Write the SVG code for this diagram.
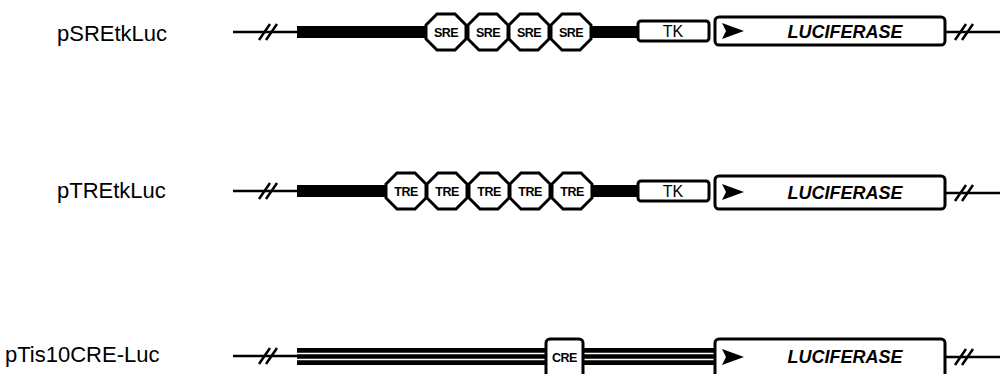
<svg xmlns="http://www.w3.org/2000/svg" width="1002" height="374" viewBox="0 0 1002 374">
  <style>
    .lbl { font-family: "Liberation Sans", Arial, sans-serif; font-size: 22px; fill: #000; }
    .thin { stroke: #000; stroke-width: 2.5; fill: none; }
    .brk { stroke: #000; stroke-width: 2.5; fill: none; }
    .thick { fill: #000; }
    .oct { fill: #fff; stroke: #000; stroke-width: 3; }
    .box { fill: #fff; stroke: #000; stroke-width: 3; }
    .otxt { font-family: "Liberation Sans", Arial, sans-serif; font-size: 12.5px; font-weight: bold; text-anchor: middle; fill: #000; letter-spacing: -0.5px; }
    .tk { font-family: "Liberation Sans", Arial, sans-serif; font-size: 16px; text-anchor: middle; fill: #000; }
    .luc { font-family: "Liberation Sans", Arial, sans-serif; font-size: 18px; font-weight: bold; font-style: italic; text-anchor: middle; fill: #000; }
  </style>
  <defs>
    <polygon id="octagon" class="oct" points="-9,-18 9,-18 20,-7 20,7 9,18 -9,18 -20,7 -20,-7"/>
    <path id="breakmark" class="brk" d="M-9,8 L2,-8 M-2,8 L9,-8"/>
    <path id="promoterArrow" d="M0,-8 L22,0 L0,8 L4,0 Z" fill="#000"/>
  </defs>

  <!-- construct 1: pSREtkLuc -->
  <g id="pSREtkLuc">
    <text class="lbl" x="57" y="41">pSREtkLuc</text>
    <g id="pSREtkLuc-backbone">
      <line class="thin" x1="233" y1="32" x2="298" y2="32"/>
      <use href="#breakmark" x="268" y="32"/>
      <rect class="thick" x="297" y="26" width="130" height="12"/>
      <rect class="thick" x="590" y="26" width="50" height="12"/>
      <line class="thin" x1="935" y1="32" x2="1000" y2="32"/>
      <use href="#breakmark" x="964" y="32"/>
    </g>
    <g id="pSREtkLuc-sre1"><use href="#octagon" x="446" y="32"/><text class="otxt" x="446" y="37">SRE</text></g>
    <g id="pSREtkLuc-sre2"><use href="#octagon" x="488" y="32"/><text class="otxt" x="488" y="37">SRE</text></g>
    <g id="pSREtkLuc-sre3"><use href="#octagon" x="529" y="32"/><text class="otxt" x="529" y="37">SRE</text></g>
    <g id="pSREtkLuc-sre4"><use href="#octagon" x="571" y="32"/><text class="otxt" x="571" y="37">SRE</text></g>
    <g id="pSREtkLuc-tk"><rect class="box" x="638" y="21" width="71" height="20" rx="3"/><text class="tk" x="673" y="37">TK</text></g>
    <g id="pSREtkLuc-luc">
      <rect class="box" x="715" y="17" width="230" height="28" rx="4"/>
      <use href="#promoterArrow" x="722" y="31"/>
      <text class="luc" x="845" y="38">LUCIFERASE</text>
    </g>
  </g>

  <!-- construct 2: pTREtkLuc -->
  <g id="pTREtkLuc">
    <text class="lbl" x="57" y="198">pTREtkLuc</text>
    <g id="pTREtkLuc-backbone">
      <line class="thin" x1="233" y1="191" x2="298" y2="191"/>
      <use href="#breakmark" x="268" y="191"/>
      <rect class="thick" x="297" y="185" width="90" height="12"/>
      <rect class="thick" x="592" y="185" width="48" height="12"/>
      <line class="thin" x1="945" y1="193" x2="1000" y2="193"/>
      <use href="#breakmark" x="964" y="193"/>
    </g>
    <g id="pTREtkLuc-tre1"><use href="#octagon" x="406" y="191"/><text class="otxt" x="406" y="196">TRE</text></g>
    <g id="pTREtkLuc-tre2"><use href="#octagon" x="447" y="191"/><text class="otxt" x="447" y="196">TRE</text></g>
    <g id="pTREtkLuc-tre3"><use href="#octagon" x="489" y="191"/><text class="otxt" x="489" y="196">TRE</text></g>
    <g id="pTREtkLuc-tre4"><use href="#octagon" x="530" y="191"/><text class="otxt" x="530" y="196">TRE</text></g>
    <g id="pTREtkLuc-tre5"><use href="#octagon" x="572" y="191"/><text class="otxt" x="572" y="196">TRE</text></g>
    <g id="pTREtkLuc-tk"><rect class="box" x="638" y="181" width="71" height="20" rx="3"/><text class="tk" x="673" y="197">TK</text></g>
    <g id="pTREtkLuc-luc">
      <rect class="box" x="715" y="176" width="230" height="33" rx="4"/>
      <use href="#promoterArrow" x="722" y="192"/>
      <text class="luc" x="845" y="199">LUCIFERASE</text>
    </g>
  </g>

  <!-- construct 3: pTis10CRE-Luc -->
  <g id="pTis10CRE-Luc">
    <text class="lbl" x="5" y="362">pTis10CRE-Luc</text>
    <g id="pTis10CRE-Luc-backbone">
      <line class="thin" x1="233" y1="356" x2="298" y2="356"/>
      <use href="#breakmark" x="268" y="356"/>
      <rect class="thick" x="297" y="348" width="250" height="17"/>
      <rect class="thick" x="581" y="348" width="136" height="17"/>
      <line x1="297" y1="353.5" x2="717" y2="353.5" stroke="#fff" stroke-width="1.6"/>
      <line x1="297" y1="359.5" x2="717" y2="359.5" stroke="#fff" stroke-width="1.6"/>
      <line class="thin" x1="945" y1="357" x2="1000" y2="357"/>
      <use href="#breakmark" x="964" y="357"/>
    </g>
    <g id="pTis10CRE-Luc-cre"><rect class="box" x="546" y="339" width="37" height="45" rx="4"/><text class="otxt" x="564.5" y="362">CRE</text></g>
    <g id="pTis10CRE-Luc-luc">
      <rect class="box" x="715" y="339" width="230" height="45" rx="4"/>
      <use href="#promoterArrow" x="722" y="357"/>
      <text class="luc" x="845" y="363">LUCIFERASE</text>
    </g>
  </g>
</svg>
